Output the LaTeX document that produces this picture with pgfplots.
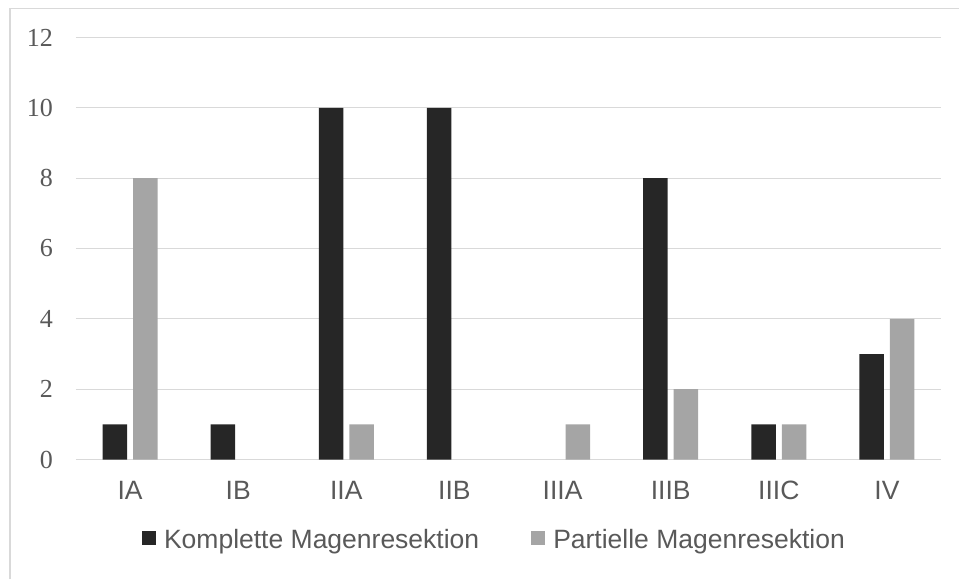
\documentclass[border=0pt]{standalone}
\usepackage{pgfplots}
\pgfplotsset{compat=1.18}
\usepackage{fontspec}
\setmainfont{Liberation Sans}
\newfontfamily\numfont{Liberation Serif}

\definecolor{darkbar}{HTML}{262626}
\definecolor{lightbar}{HTML}{A5A5A5}
\definecolor{gridgray}{HTML}{D9D9D9}
\definecolor{labelgray}{HTML}{595959}
\definecolor{framegray}{HTML}{D9D9D9}

\pgfplotstableread{
x stage komplett partiell
0 IA    1  8
1 IB    1  0
2 IIA  10  1
3 IIB  10  0
4 IIIA  0  1
5 IIIB  8  2
6 IIIC  1  1
7 IV    3  4
}\stagedata

\begin{document}
\begin{tikzpicture}[x=1pt,y=1pt]
\useasboundingbox (0,0) rectangle (959,579);
% chart frame (top and left edges)
\draw[framegray, line width=1.2pt] (10,0) -- (10,570.5) -- (959,570.5);
\begin{axis}[
  at={(76pt,119.5pt)}, anchor=south west,
  scale only axis,
  width=865pt, height=422pt,
  ymin=0, ymax=12,
  xmin=-0.5, xmax=7.5,
  ytick={0,2,...,12},
  xtick={0,...,7},
  xticklabels={IA,IB,IIA,IIB,IIIA,IIIB,IIIC,IV},
  ymajorgrids,
  grid style={gridgray, line width=1pt},
  axis x line*=bottom,
  y axis line style={draw=none},
  x axis line style={gridgray, line width=1.2pt, -},
  major tick length=0pt,
  /pgf/number format/assume math mode=true,
  yticklabel style={font=\numfont\fontsize{26}{30}\selectfont, text=labelgray, anchor=east, inner sep=0pt, xshift=-23pt},
  xticklabel style={font=\fontsize{26.5}{30}\selectfont, text=labelgray, anchor=base, inner sep=0pt, yshift=-40pt},
  ybar=6pt,
  bar width=24.5pt,
  unbounded coords=discard,
  y filter/.expression={y==0 ? nan : y},
  legend columns=2,
  legend style={at={(0.4838,-0.1895)}, anchor=center, draw=none, fill=none,
    font=\fontsize{26.5}{30}\selectfont, text=labelgray, inner sep=0pt,
    /tikz/every odd column/.append style={column sep=6pt},
    /tikz/every even column/.append style={column sep=50pt}},
  legend image code/.code={\fill[#1] (0pt,-6pt) rectangle (14pt,8pt);},
]
\addplot[fill=darkbar, draw=none] table[x=x, y=komplett] {\stagedata};
\addplot[fill=lightbar, draw=none] table[x=x, y=partiell] {\stagedata};
\legend{Komplette Magenresektion, Partielle Magenresektion}
\end{axis}
\end{tikzpicture}
\end{document}
